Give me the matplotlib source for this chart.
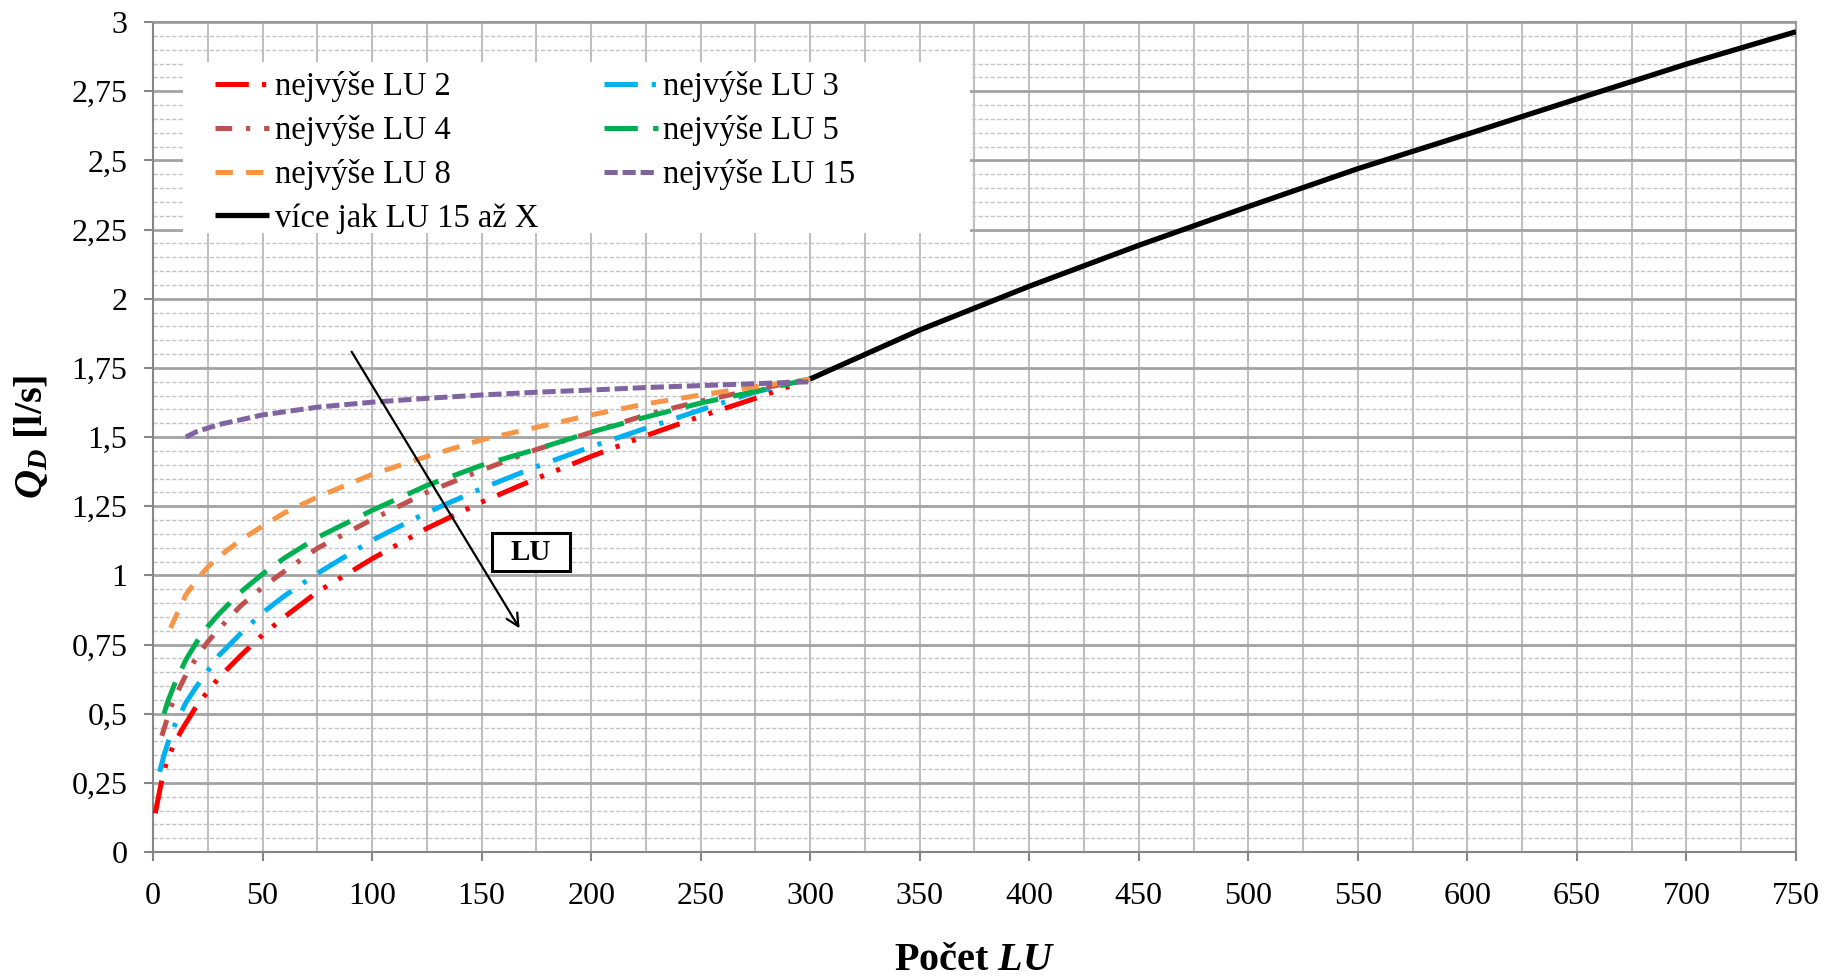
import numpy as np
import matplotlib
matplotlib.use("Agg")
import matplotlib.pyplot as plt
from matplotlib.patches import Rectangle

plt.rcParams['font.family'] = ['Liberation Serif', 'DejaVu Serif']
plt.rcParams['mathtext.fontset'] = 'custom'
plt.rcParams['mathtext.it'] = 'Liberation Serif:bold:italic'
plt.rcParams['mathtext.rm'] = 'Liberation Serif:bold'
plt.rcParams['mathtext.bf'] = 'Liberation Serif:bold'
plt.rcParams['lines.scale_dashes'] = False

# ---------------- data ----------------
labels = ["nejvýše LU 2", "nejvýše LU 3", "nejvýše LU 4", "nejvýše LU 5",
          "nejvýše LU 8", "nejvýše LU 15", "více jak LU 15 až X"]

x_lu2 = [1, 4, 6, 9, 13, 20, 30, 40, 50, 60, 75, 100, 125, 150, 175, 200, 225, 250, 275, 300]
y_lu2 = [0.14, 0.26, 0.32, 0.38, 0.44, 0.53, 0.63, 0.71, 0.785, 0.85, 0.94, 1.06, 1.17,
         1.265, 1.35, 1.43, 1.505, 1.575, 1.64, 1.71]

x_lu3 = [3, 5, 7, 10, 15, 20, 30, 40, 50, 60, 75, 100, 125, 150, 175, 200, 225, 250, 275, 300]
y_lu3 = [0.29, 0.35, 0.40, 0.46, 0.54, 0.60, 0.71, 0.79, 0.865, 0.926, 1.007, 1.127, 1.227,
         1.314, 1.393, 1.465, 1.532, 1.598, 1.663, 1.71]

x_lu4 = [4, 6, 8, 10, 15, 20, 25, 30, 40, 50, 60, 75, 100, 125, 150, 175, 200, 225, 250, 275, 300]
y_lu4 = [0.42, 0.47, 0.52, 0.56, 0.64, 0.705, 0.76, 0.806, 0.89, 0.957, 1.015, 1.098, 1.202,
         1.30, 1.38, 1.455, 1.517, 1.58, 1.63, 1.672, 1.71]

x_lu5 = [5, 7, 10, 15, 20, 25, 30, 40, 50, 60, 75, 100, 125, 150, 175, 200, 225, 250, 275, 300]
y_lu5 = [0.50, 0.55, 0.61, 0.695, 0.76, 0.815, 0.86, 0.94, 1.005, 1.063, 1.137, 1.235, 1.325,
         1.398, 1.456, 1.518, 1.572, 1.623, 1.665, 1.71]

x_lu8 = [8, 10, 15, 20, 25, 30, 40, 50, 60, 75, 100, 125, 150, 175, 200, 225, 250, 275, 300]
y_lu8 = [0.81, 0.845, 0.93, 0.985, 1.03, 1.067, 1.128, 1.178, 1.226, 1.283, 1.365, 1.43,
         1.49, 1.535, 1.58, 1.62, 1.652, 1.682, 1.71]

x_lu15 = [15, 20, 30, 50, 75, 100, 125, 150, 175, 200, 225, 250, 275, 300]
y_lu15 = [1.50, 1.52, 1.545, 1.58, 1.608, 1.626, 1.64, 1.652, 1.662, 1.67, 1.679, 1.686,
          1.693, 1.70]

x_more = [300, 350, 400, 450, 500, 550, 600, 650, 700, 750]
y_more = [1.71, 1.887, 2.045, 2.193, 2.333, 2.47, 2.595, 2.722, 2.848, 2.965]

x_ticks = list(range(0, 751, 50))
y_ticks = [0, 0.25, 0.5, 0.75, 1, 1.25, 1.5, 1.75, 2, 2.25, 2.5, 2.75, 3]
y_ticklabels = ["0", "0,25", "0,5", "0,75", "1", "1,25", "1,5", "1,75", "2",
                "2,25", "2,5", "2,75", "3"]

# ---------------- styles ----------------
colors = ["#FF0000", "#00B0F0", "#C0504D", "#00B050", "#F79646", "#8064A2", "#000000"]
dashes = [(24, 9.5, 3, 9.5, 3, 9.5), (24, 10, 3, 10), (12, 10, 3, 10), (24, 11),
          (12.5, 9.5), (9.5, 3.5), None]

fig = plt.figure(figsize=(18.35, 9.76), dpi=100)
ax = fig.add_axes([0.0834, 0.1270, 0.8953, 0.8504])

ax.set_xlim(0, 750)
ax.set_ylim(0, 3)

ax.set_xticks(x_ticks)
ax.set_xticks(list(range(25, 751, 50)), minor=True)
ax.set_yticks(y_ticks)
ax.set_yticklabels(y_ticklabels)
ax.set_yticks([v for v in np.round(np.arange(0, 3.001, 0.05), 2) if round(v * 4, 6) % 1 != 0],
              minor=True)

ax.set_axisbelow(True)
ax.xaxis.grid(True, which='both', color='#BFBFBF', lw=1.5, zorder=0)
ax.yaxis.grid(True, which='major', color='#A3A3A3', lw=2.0, zorder=0)
ax.yaxis.grid(True, which='minor', color='#C4C4C4', lw=1.0, ls=(0, (3, 1.5)), zorder=0)

ax.tick_params(which='minor', length=0)
ax.tick_params(axis='y', which='major', length=6.5, width=1.5, color='#868686',
               labelsize=23, pad=12)
ax.tick_params(axis='x', which='major', length=6.5, width=1.5, color='#868686',
               labelsize=23, pad=15)
for sp in ax.spines.values():
    sp.set_color('#9A9A9A')
    sp.set_linewidth(1.5)
ax.spines['left'].set_color('#868686')
ax.spines['bottom'].set_color('#868686')

# white legend area
ax.add_patch(Rectangle((0.0183, 0.7458), 0.479, 0.206, transform=ax.transAxes,
                       facecolor='white', edgecolor='none', zorder=1.5))

series = [(x_lu2, y_lu2), (x_lu3, y_lu3), (x_lu4, y_lu4), (x_lu5, y_lu5),
          (x_lu8, y_lu8), (x_lu15, y_lu15), (x_more, y_more)]
handles = []
for (xs, ys), c, d, lab in zip(series, colors, dashes, labels):
    if d is None:
        h, = ax.plot(xs, ys, color=c, lw=3.8, label=lab, zorder=4,
                     solid_capstyle='butt')
    else:
        h, = ax.plot(xs, ys, color=c, lw=3.6, label=lab, zorder=3,
                     dashes=d, dash_capstyle='butt')
    handles.append(h)

order = [0, 2, 4, 6, 1, 3, 5]
leg = ax.legend([handles[i] for i in order], [labels[i] for i in order],
                ncol=2, loc='upper left', bbox_to_anchor=(0.038, 0.941),
                frameon=False, fontsize=23.5, handlelength=1.65, handletextpad=0.17,
                columnspacing=2.0, labelspacing=0.4, borderpad=0, borderaxespad=0)
leg.set_zorder(6)

# arrow and LU box
ax.annotate('', xy=(168, 0.80), xytext=(90, 1.817),
            arrowprops=dict(arrowstyle='->', color='black', lw=1.6, mutation_scale=22),
            zorder=5)
ax.add_patch(Rectangle((154.6, 1.017), 35.8, 0.135, facecolor='white',
                       edgecolor='black', lw=2.2, zorder=5))
ax.text(172.5, 1.082, 'LU', ha='center', va='center', fontsize=21,
        fontweight='bold', zorder=6)

ax.set_xlabel(r'Počet $LU$', fontsize=29, fontweight='bold')
ax.xaxis.set_label_coords(0.5, -0.108)
ax.set_ylabel(r'$Q_D$ [l/s]', fontsize=29, fontweight='bold')
ax.yaxis.set_label_coords(-0.062, 0.5)

fig.savefig('out.png', dpi=100)
